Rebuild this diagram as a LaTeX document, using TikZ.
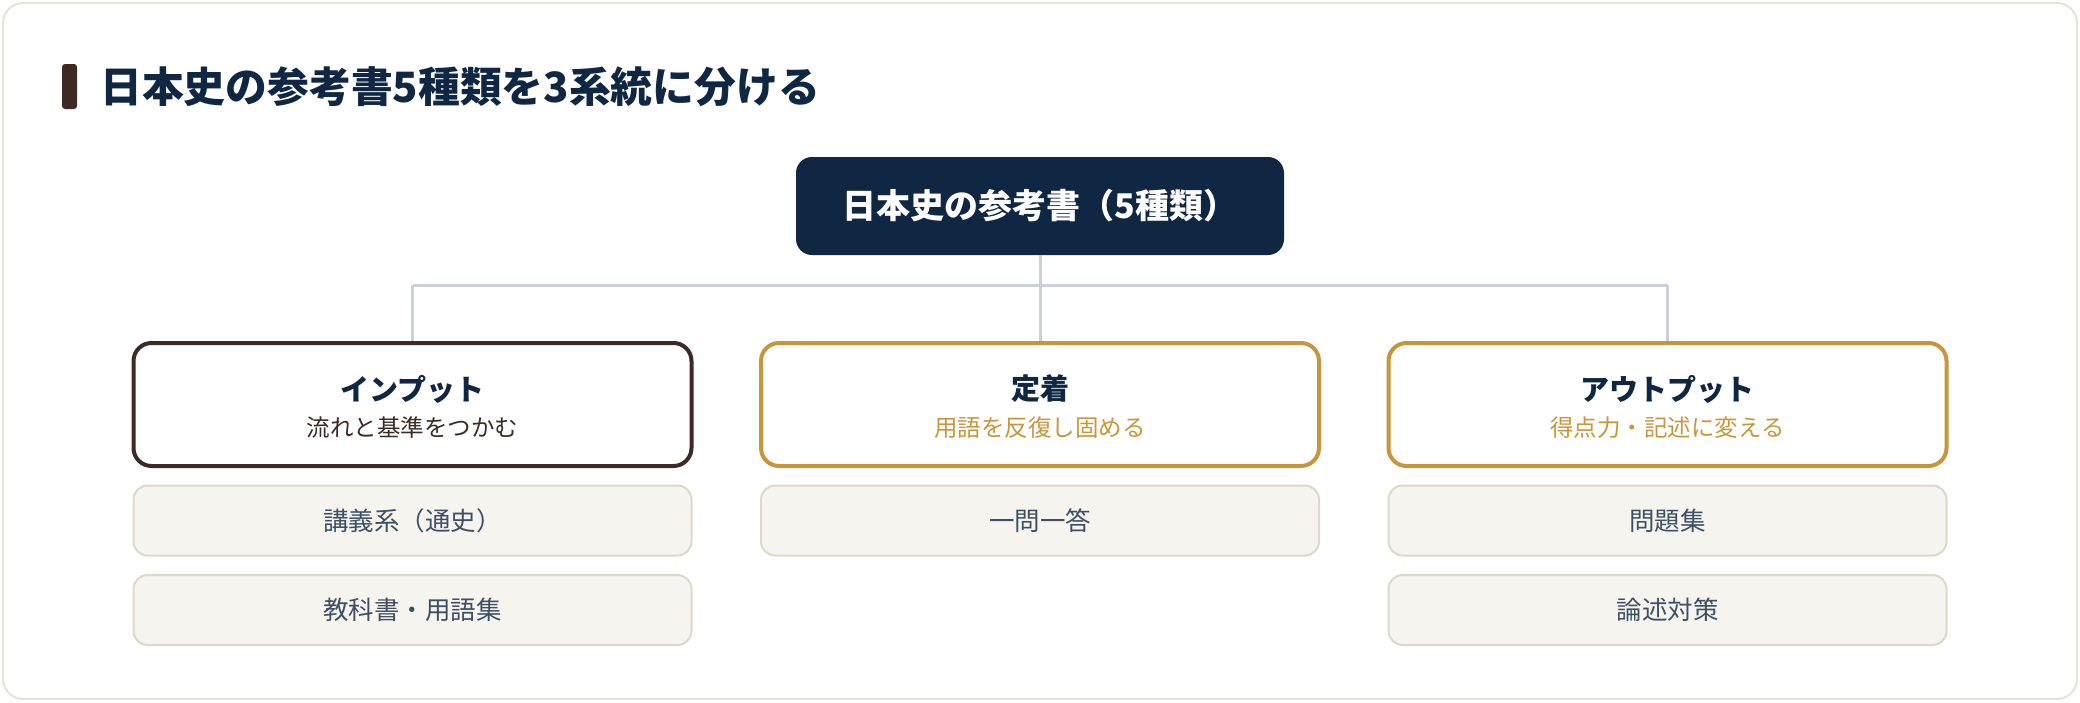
\documentclass[tikz,border=0pt]{standalone}
\usepackage{fontspec}
\setmainfont{Noto Sans CJK JP}
\definecolor{navy}{HTML}{0F2742}
\definecolor{brownd}{HTML}{3D2A24}
\definecolor{gold}{HTML}{C8963A}
\definecolor{conn}{HTML}{CBD1DA}
\definecolor{itemfill}{HTML}{F5F4EE}
\definecolor{itemline}{HTML}{DDD9C9}
\definecolor{itemtext}{HTML}{3E4F63}
\definecolor{frame}{HTML}{E6E4D6}
\tikzset{
  rootbox/.style={rounded corners=16pt, fill=navy, minimum width=488pt, minimum height=98pt, text=white, font=\fontsize{34}{40}\selectfont\bfseries},
  catbox/.style={rounded corners=18pt, draw=#1, line width=4pt, fill=white, minimum width=558pt, minimum height=123pt},
  itembox/.style={rounded corners=14pt, draw=itemline, line width=2pt, fill=itemfill, minimum width=558pt, minimum height=70pt, text=itemtext, font=\fontsize{25.5}{30}\selectfont},
  cattitle/.style={text=navy, font=\fontsize{29}{34}\selectfont\bfseries},
  catsub/.style={text=#1, font=\fontsize{23.5}{28}\selectfont},
  connector/.style={draw=conn, line width=3pt}
}
\begin{document}
\begin{tikzpicture}[x=1pt,y=-1pt]
\useasboundingbox (0,0) rectangle (2080,702);
\draw[frame, line width=2pt, rounded corners=20pt] (3,3) rectangle (2077,699);
\fill[brownd, rounded corners=3pt] (62,64) rectangle (77,109);
\node[anchor=west, text=navy, font=\fontsize{41.8}{50}\selectfont\bfseries, inner sep=0pt] (title) at (100,87) {日本史の参考書5種類を3系統に分ける};
\node[rootbox] (root) at (1040,206) {日本史の参考書（5種類）};
\node[catbox=brownd] (c1) at (412.5,404.5) {};
\node[catbox=gold] (c2) at (1040,404.5) {};
\node[catbox=gold] (c3) at (1667.5,404.5) {};
\coordinate (j) at (1040,285);
\coordinate (jl) at (412.5,285);
\coordinate (jr) at (1667.5,285);
\node[cattitle] (t1) at (412.5,389) {インプット};
\node[catsub=brownd] (s1) at (412.5,428) {流れと基準をつかむ};
\node[cattitle] (t2) at (1040,389) {定着};
\node[catsub=gold] (s2) at (1040,428) {用語を反復し固める};
\node[cattitle] (t3) at (1667.5,389) {アウトプット};
\node[catsub=gold] (s3) at (1667.5,428) {得点力・記述に変える};
\node[itembox] (i11) at (412.5,520.5) {講義系（通史）};
\node[itembox] (i12) at (412.5,610) {教科書・用語集};
\node[itembox] (i21) at (1040,520.5) {一問一答};
\node[itembox] (i31) at (1667.5,520.5) {問題集};
\node[itembox] (i32) at (1667.5,610) {論述対策};
\draw[connector] (root.south) -- (j);
\draw[connector] (jl) -- (jr);
\draw[connector] (jl) -- (c1.north);
\draw[connector] (j) -- (c2.north);
\draw[connector] (jr) -- (c3.north);
\end{tikzpicture}
\end{document}
